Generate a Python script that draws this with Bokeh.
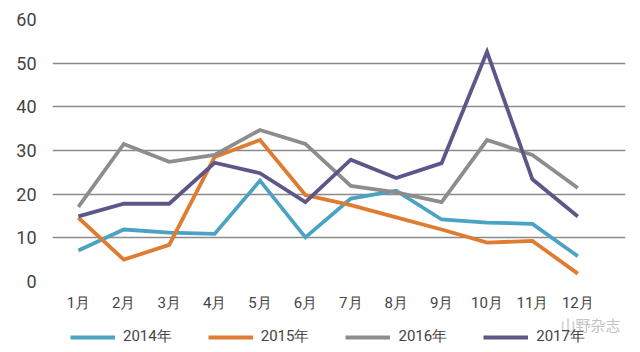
from bokeh.plotting import figure
from bokeh.layouts import column
from bokeh.models import Legend, LegendItem, FixedTicker, Range1d, Label
from bokeh.embed import file_html
from bokeh.resources import INLINE

months = ["1月", "2月", "3月", "4月", "5月", "6月", "7月", "8月", "9月", "10月", "11月", "12月"]
s2014 = [7.1, 11.9, 11.2, 10.9, 23.1, 10.1, 19.0, 20.8, 14.2, 13.5, 13.2, 5.8]
s2015 = [14.6, 5.0, 8.4, 28.5, 32.4, 19.8, 17.5, 14.7, 11.9, 8.9, 9.3, 1.8]
s2016 = [17.1, 31.5, 27.4, 29.0, 34.7, 31.5, 21.9, 20.4, 18.2, 32.4, 29.0, 21.4]
s2017 = [14.9, 17.8, 17.8, 27.2, 24.8, 18.2, 27.9, 23.7, 27.1, 52.6, 23.4, 14.9]
series_names = ["2014年", "2015年", "2016年", "2017年"]
colors = ["#4ba3c4", "#e07b32", "#8d8d8d", "#5d5789"]
y_ticks = [0, 10, 20, 30, 40, 50, 60]
all_series = [s2014, s2015, s2016, s2017]

FONT = "Roboto"
x = list(range(1, 13))

p = figure(width=640, height=314, output_backend="svg", toolbar_location=None,
           x_range=Range1d(0.43, 13.05), y_range=Range1d(0, 60),
           min_border_left=52, min_border_right=15, min_border_top=19, min_border_bottom=32)
p.outline_line_color = None
p.background_fill_color = "white"
p.border_fill_color = "white"

p.xgrid.grid_line_color = None
p.ygrid.grid_line_color = "#8a8a8a"
p.ygrid.grid_line_width = 1.5
p.yaxis.ticker = FixedTicker(ticks=y_ticks)
p.xaxis.ticker = FixedTicker(ticks=x)
p.xaxis.major_label_overrides = {i + 1: m for i, m in enumerate(months)}

for ax in (p.xaxis[0], p.yaxis[0]):
    ax.axis_line_color = None
    ax.major_tick_line_color = None
    ax.minor_tick_line_color = None
    ax.major_tick_out = 0
    ax.major_tick_in = 0
    ax.major_label_text_font = FONT
    ax.major_label_text_color = "#444444"
p.yaxis.major_label_text_font_size = "18px"
p.yaxis.major_label_standoff = 16
p.xaxis.major_label_text_font_size = "15px"
p.xaxis.major_label_standoff = 12

for data, c in zip(all_series, colors):
    p.line(x, data, line_color=c, line_width=3.8, line_join="miter")

# legend strip (same series, drawn outside its visible range so only the legend shows)
lf = figure(width=640, height=38, output_backend="svg", toolbar_location=None,
            x_range=Range1d(0.43, 13.05), y_range=Range1d(1000, 1001),
            min_border_left=52, min_border_right=15,
            min_border_top=0, min_border_bottom=0)
lf.axis.visible = False
lf.grid.visible = False
lf.outline_line_color = None
lf.background_fill_color = "white"
lf.border_fill_color = "white"

items = []
for name, data, c in zip(series_names, all_series, colors):
    r = lf.line(x, data, line_color=c, line_width=3.8)
    items.append(LegendItem(label=name, renderers=[r]))

legend = Legend(items=items, orientation="horizontal", location=(18, 6),
                label_text_font=FONT, label_text_font_size="15px",
                label_text_color="#444444", glyph_width=45, glyph_height=16,
                label_standoff=8, spacing=36, padding=0, margin=0,
                border_line_color=None, background_fill_alpha=0)
lf.add_layout(legend, "center")

wm = Label(x=508, y=18, x_units="screen", y_units="screen", text="山野杂志",
           text_font="Noto Sans CJK SC", text_font_size="15px", text_color="#c4c4c4",
           text_baseline="bottom")
lf.add_layout(wm)

layout = column(p, lf, spacing=0)
open("out.html", "w").write(file_html(layout, INLINE))
